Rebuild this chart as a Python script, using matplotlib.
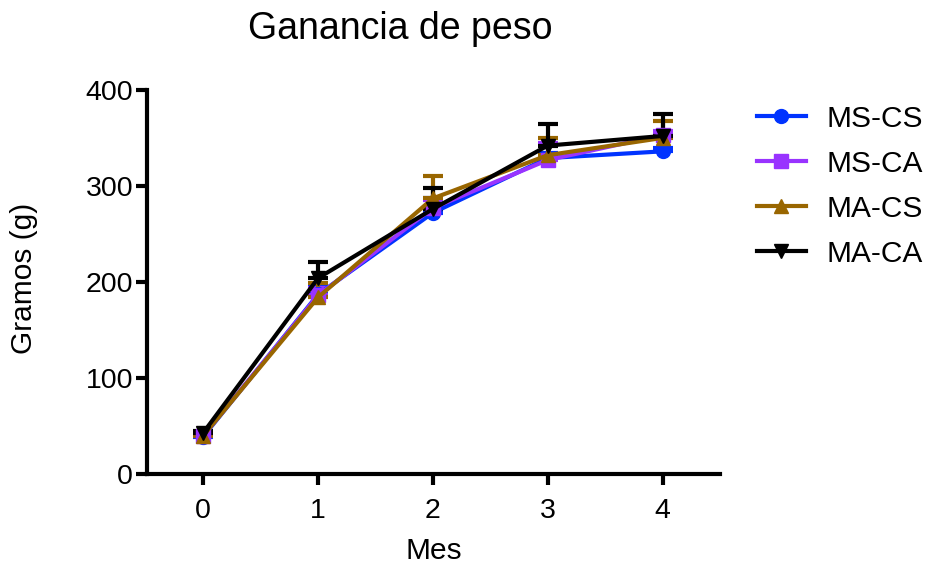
import numpy as np
from matplotlib import pyplot as plt
from matplotlib.lines import Line2D

plt.rcParams['font.family'] = ['Liberation Sans', 'DejaVu Sans']

meses = [0, 1, 2, 3, 4]
grupos = ['MS-CS', 'MS-CA', 'MA-CS', 'MA-CA']

ms_cs = [39, 187, 272, 329, 336]
ms_ca = [40, 186, 277, 327, 353]
ma_cs = [40, 184, 287, 332, 350]
ma_ca = [43, 204, 276, 342, 352]

# only the upper half of the error bars is shown
ms_cs_err = [2, 8, 15, 5, 3]
ms_ca_err = [2, 8, 8, 18, 4]
ma_cs_err = [2, 15, 23, 18, 18]
ma_ca_err = [2, 17, 22, 22, 23]

colores = ['#0033FF', '#9933FF', '#996600', '#000000']
marcadores = ['o', 's', '^', 'v']

fig = plt.figure(figsize=(9.33, 5.69), dpi=100)
ax = fig.add_axes([0.1576, 0.167, 0.614, 0.675])

series = [ms_cs, ms_ca, ma_cs, ma_ca]
errores = [ms_cs_err, ms_ca_err, ma_cs_err, ma_ca_err]
handles = []
for nombre, y, e, c, m in zip(grupos, series, errores, colores, marcadores):
    ax.errorbar(meses, y, yerr=[np.zeros(len(e)), e], color=c, marker=m,
                markersize=10, linewidth=3, elinewidth=3, capsize=7,
                capthick=3, clip_on=False)
    handles.append(Line2D([], [], color=c, marker=m, markersize=10,
                          linewidth=3, label=nombre))

ax.set_xlim(-0.49, 4.5)
ax.set_ylim(0, 400)
ax.set_xticks(meses)
ax.set_yticks([0, 100, 200, 300, 400])
ax.spines['top'].set_visible(False)
ax.spines['right'].set_visible(False)
ax.spines['left'].set_linewidth(3)
ax.spines['bottom'].set_linewidth(3)
ax.tick_params(width=3, length=8, labelsize=20.5)
ax.tick_params(axis='x', pad=9)
ax.tick_params(axis='y', pad=2)

ax.set_title('Ganancia de peso', fontsize=27, x=0.4415, pad=37)
ax.set_xlabel('Mes', fontsize=21.5)
ax.set_ylabel('Gramos (g)', fontsize=21.5)
ax.xaxis.set_label_coords(0.5, -0.164)
ax.yaxis.set_label_coords(-0.19, 0.51)

ax.legend(handles=handles, loc='upper left', bbox_to_anchor=(1.0646, 0.961),
          frameon=False, fontsize=21.5, handlelength=1.64,
          labelspacing=0.57, handletextpad=0.7, borderaxespad=0, borderpad=0)

plt.savefig('out.png', dpi=100)
